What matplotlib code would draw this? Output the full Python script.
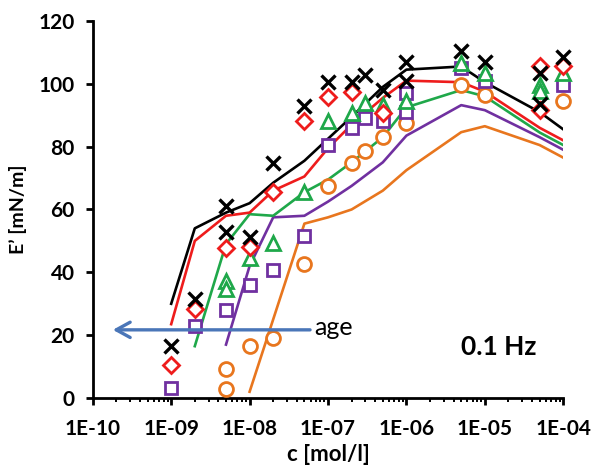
import numpy as np
import matplotlib
matplotlib.use('Agg')
import matplotlib.pyplot as plt
from matplotlib.ticker import FixedLocator, FuncFormatter, LogLocator, NullFormatter

plt.rcParams['font.family'] = ['Lato', 'DejaVu Sans']

# Measured points (concentration in mol/l, E' in mN/m)
black_c = [1e-9, 2e-9, 5e-9, 5e-9, 1e-8, 2e-8, 5e-8, 1e-7, 2e-7, 3e-7, 5e-7,
           1e-6, 1e-6, 5e-6, 1e-5, 5e-5, 5e-5, 1e-4]
black_E = [16.6, 31.6, 61, 52.7, 51.2, 74.7, 93, 100.5, 100.6, 102.8, 98,
           107, 101, 110.5, 107, 103.5, 93.5, 108.5]

red_c = [1e-9, 2e-9, 5e-9, 1e-8, 2e-8, 5e-8, 1e-7, 2e-7, 5e-7,
         5e-5, 5e-5, 1e-4]
red_E = [10.5, 28.4, 47.7, 48, 65.7, 88.3, 95.8, 97.3, 90.6,
         105.5, 91.5, 105.5]

green_c = [5e-9, 5e-9, 1e-8, 2e-8, 5e-8, 1e-7, 2e-7, 3e-7, 5e-7,
           1e-6, 5e-6, 1e-5, 5e-5, 5e-5, 1e-4]
green_E = [37.3, 34.8, 44.5, 49.3, 65.5, 88.2, 90.8, 94, 93.3,
           94.5, 106.5, 103.5, 99.5, 97.8, 103.5]

purple_c = [1e-9, 2e-9, 5e-9, 1e-8, 2e-8, 5e-8, 1e-7, 2e-7, 3e-7, 5e-7,
            1e-6, 1e-6, 5e-6, 1e-5, 1e-4]
purple_E = [3.2, 23, 28, 36, 40.8, 51.7, 80.4, 86, 89, 88,
            97, 91, 105, 101, 99.6]

orange_c = [5e-9, 5e-9, 1e-8, 2e-8, 5e-8, 1e-7, 2e-7, 3e-7, 5e-7,
            1e-6, 5e-6, 1e-5, 1e-4]
orange_E = [9.3, 2.9, 16.6, 19, 42.7, 67.4, 74.8, 78.7, 83,
            87.4, 99.6, 96.4, 94.6]

# Model curves
black_line_c = [1e-9, 2e-9, 5e-9, 1e-8, 2e-8, 5e-8, 1e-7, 2e-7, 5e-7, 1e-6, 5e-6, 1e-5, 5e-5, 1e-4]
black_line_E = [30, 54, 59, 62, 68.5, 75.5, 82.5, 89.5, 99, 104.5, 105.5, 100.5, 91, 85.5]

red_line_c = [1e-9, 2e-9, 5e-9, 1e-8, 2e-8, 5e-8, 1e-7, 2e-7, 5e-7, 1e-6, 5e-6, 1e-5, 5e-5, 1e-4]
red_line_E = [23.5, 50, 58, 59, 66, 70.5, 79.5, 87, 95.5, 101, 100.5, 97.5, 86, 82]

green_line_c = [2e-9, 5e-9, 1e-8, 2e-8, 5e-8, 1e-7, 2e-7, 5e-7, 1e-6, 5e-6, 1e-5, 5e-5, 1e-4]
green_line_E = [16.5, 49, 58.5, 58, 65.5, 69.5, 75, 83, 92.5, 98, 96, 84.5, 80.5]

purple_line_c = [5e-9, 1e-8, 2e-8, 5e-8, 1e-7, 2e-7, 5e-7, 1e-6, 5e-6, 1e-5, 5e-5, 1e-4]
purple_line_E = [17, 42, 57.5, 58, 62.5, 67.5, 75, 83.5, 93.2, 91.6, 83, 79]

orange_line_c = [1e-8, 5e-8, 1e-7, 2e-7, 5e-7, 1e-6, 5e-6, 1e-5, 5e-5, 1e-4]
orange_line_E = [2, 55.5, 57.5, 60, 66, 72.5, 84.6, 86.5, 80.5, 76.5]

x_ticks = [1e-10, 1e-9, 1e-8, 1e-7, 1e-6, 1e-5, 1e-4]
y_ticks = [0, 20, 40, 60, 80, 100, 120]

# arrow for ageing direction
arrow_tail = (5.9e-8, 21.7)
arrow_head = (1.8e-10, 21.7)

BLACK = '#000000'
RED = '#ee1c1c'
GREEN = '#1fa84a'
PURPLE = '#7030a0'
ORANGE = '#e8761e'
BLUE = '#4a76b8'

fig = plt.figure(figsize=(5.91, 4.65), dpi=100)
ax = fig.add_axes([0.157, 0.144, 0.796, 0.811])

lw = 1.9
ax.plot(orange_line_c, orange_line_E, color=ORANGE, lw=lw, zorder=2)
ax.plot(purple_line_c, purple_line_E, color=PURPLE, lw=lw, zorder=2)
ax.plot(green_line_c, green_line_E, color=GREEN, lw=lw, zorder=2)
ax.plot(red_line_c, red_line_E, color=RED, lw=lw, zorder=2)
ax.plot(black_line_c, black_line_E, color=BLACK, lw=lw, zorder=2)

# white filled open markers like the spreadsheet original
mk = dict(linestyle='none', markerfacecolor='white', markeredgewidth=2.0, clip_on=False, zorder=3)
ax.plot(orange_c, orange_E, marker='o', ms=10, markeredgecolor=ORANGE, **mk)
ax.plot(purple_c, purple_E, marker='s', ms=9, markeredgecolor=PURPLE, **mk)
ax.plot(green_c, green_E, marker='^', ms=10, markeredgecolor=GREEN, **mk)
ax.plot(red_c, red_E, marker='D', ms=8, markeredgecolor=RED, **mk)
ax.plot(black_c, black_E, marker='x', ms=10, color=BLACK, linestyle='none',
        markeredgewidth=2.4, clip_on=False, zorder=4)

ax.annotate('', xy=arrow_head, xytext=arrow_tail,
            arrowprops=dict(arrowstyle='->,head_length=1.0,head_width=0.55',
                            color=BLUE, lw=2.4, shrinkA=0, shrinkB=0), zorder=5)
ax.text(6.6e-8, arrow_tail[1] + 0.6, 'age', fontsize=18, va='center', ha='left')
ax.text(5.0e-6, 16.3, '0.1 Hz', fontsize=19, fontweight='bold', va='center', ha='left')

ax.set_xscale('log')
ax.set_xlim(1e-10, 1e-4)
ax.set_ylim(0, 120)
ax.xaxis.set_major_locator(FixedLocator(x_ticks))
ax.xaxis.set_major_formatter(FuncFormatter(lambda v, p: '1E-%02d' % round(-np.log10(v))))
ax.xaxis.set_minor_locator(LogLocator(base=10, subs=np.arange(2, 10), numticks=20))
ax.xaxis.set_minor_formatter(NullFormatter())
ax.yaxis.set_major_locator(FixedLocator(y_ticks))

for s in ['top', 'right']:
    ax.spines[s].set_visible(False)
for s in ['left', 'bottom']:
    ax.spines[s].set_linewidth(2.0)

ax.tick_params(axis='both', which='major', direction='out', length=5, width=2.0,
               labelsize=15, pad=6)
ax.tick_params(axis='x', which='major', pad=10)
ax.tick_params(axis='y', which='major', pad=8)
ax.tick_params(axis='x', which='minor', direction='out', length=3, width=1.4)
for lab in ax.get_xticklabels() + ax.get_yticklabels():
    lab.set_fontweight('bold')

ax.set_xlabel('c [mol/l]', fontsize=16, fontweight='bold', labelpad=4)
ax.set_ylabel('E’ [mN/m]', fontsize=14, fontweight='bold', labelpad=8)

fig.savefig('out.png', dpi=100)
